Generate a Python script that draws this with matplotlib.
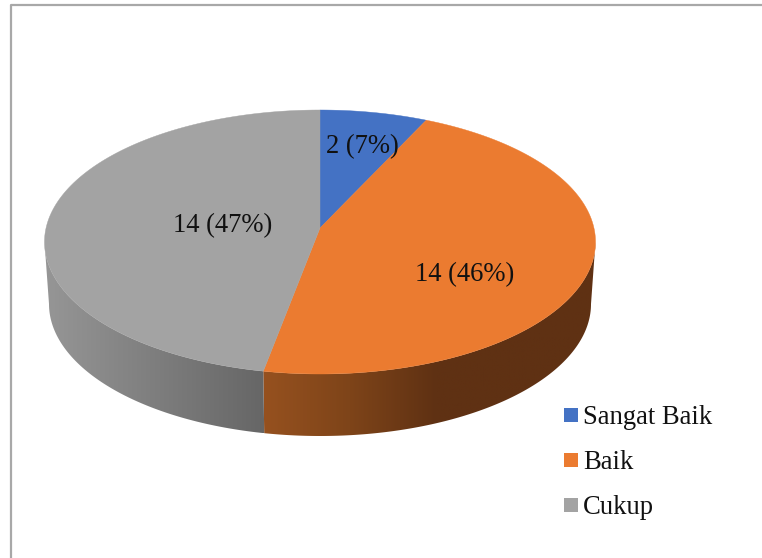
import numpy as np
import matplotlib
matplotlib.use('Agg')
import matplotlib.pyplot as plt
from matplotlib.colors import LinearSegmentedColormap
from matplotlib.patches import Polygon, Rectangle

categories = ['Sangat Baik', 'Baik', 'Cukup']
counts = [2, 14, 14]
percent_labels = [7, 46, 47]
# slice shares as drawn, they differ a bit from the printed percents
drawn_shares = [6.3, 47.0, 46.7]
colors = ['#4472C4', '#EB7B30', '#A3A3A3']

plt.rcParams['font.family'] = ['Liberation Serif', 'DejaVu Serif']

W, H = 762, 558
fig = plt.figure(figsize=(W / 100, H / 100), dpi=100)
ax = fig.add_axes([0, 0, 1, 1])
ax.set_xlim(0, W)
ax.set_ylim(H, 0)
ax.axis('off')

# frame only shows on top and left, the rest is cut off
ax.plot([11, 11, W], [H, 4.5, 4.5], color='#a8a8a8', lw=1.6, zorder=1)

top_c = (320, 242)
top_r = (275.5, 132)
bot_c = (320, 304)
bot_r = (271, 132)
hub = (320, 228)


def ellipse(center, radius, t):
    return np.column_stack([center[0] + radius[0] * np.sin(t),
                            center[1] - radius[1] * np.cos(t)])


bounds = np.radians(np.cumsum([0] + drawn_shares) * 3.6)

# side wall, only the front part is visible
side_colors = [
    None,
    [(0, '#96511F'), (0.26, '#7E4419'), (0.52, '#5F3113'), (1, '#5F3113')],
    [(0, '#969696'), (0.5, '#7E7E7E'), (1, '#666666')],
]
for i in [1, 2]:
    t0 = max(bounds[i], np.pi / 2)
    t1 = min(bounds[i + 1], 3 * np.pi / 2)
    t = np.linspace(t0, t1, 200)
    outline = np.vstack([ellipse(top_c, top_r, t), ellipse(bot_c, bot_r, t[::-1])])
    poly = Polygon(outline, closed=True, fc='none', ec='none', zorder=2)
    ax.add_patch(poly)
    cmap = LinearSegmentedColormap.from_list('side%d' % i, side_colors[i])
    xmin, xmax = outline[:, 0].min(), outline[:, 0].max()
    ymin, ymax = outline[:, 1].min(), outline[:, 1].max()
    grad = np.linspace(0, 1, 256).reshape(1, -1)
    im = ax.imshow(grad, cmap=cmap, extent=[xmin, xmax, ymax, ymin],
                   aspect='auto', zorder=2)
    im.set_clip_path(poly)
ax.set_xlim(0, W)
ax.set_ylim(H, 0)

# top face
for i in range(3):
    t = np.linspace(bounds[i], bounds[i + 1], 200)
    pts = np.vstack([[hub], ellipse(top_c, top_r, t)])
    ax.add_patch(Polygon(pts, closed=True, fc=colors[i], ec=colors[i], lw=0.3, zorder=3))

label_pos = [(362.5, 146.5), (464.5, 274.5), (223, 225.5)]
for i in range(3):
    ax.text(label_pos[i][0], label_pos[i][1],
            '%d (%d%%)' % (counts[i], percent_labels[i]),
            ha='center', va='center', fontsize=19.2, color='#111111', zorder=4)

# legend by hand, the rows have to be evenly spaced
for i in range(3):
    row = 408 + 45 * i
    ax.add_patch(Rectangle((564, row), 14, 14, fc=colors[i], ec='none', zorder=4))
    ax.text(583, row + 16, categories[i], ha='left', va='baseline',
            fontsize=19.2, color='#111111', zorder=4)

fig.savefig('out.png', dpi=100)
